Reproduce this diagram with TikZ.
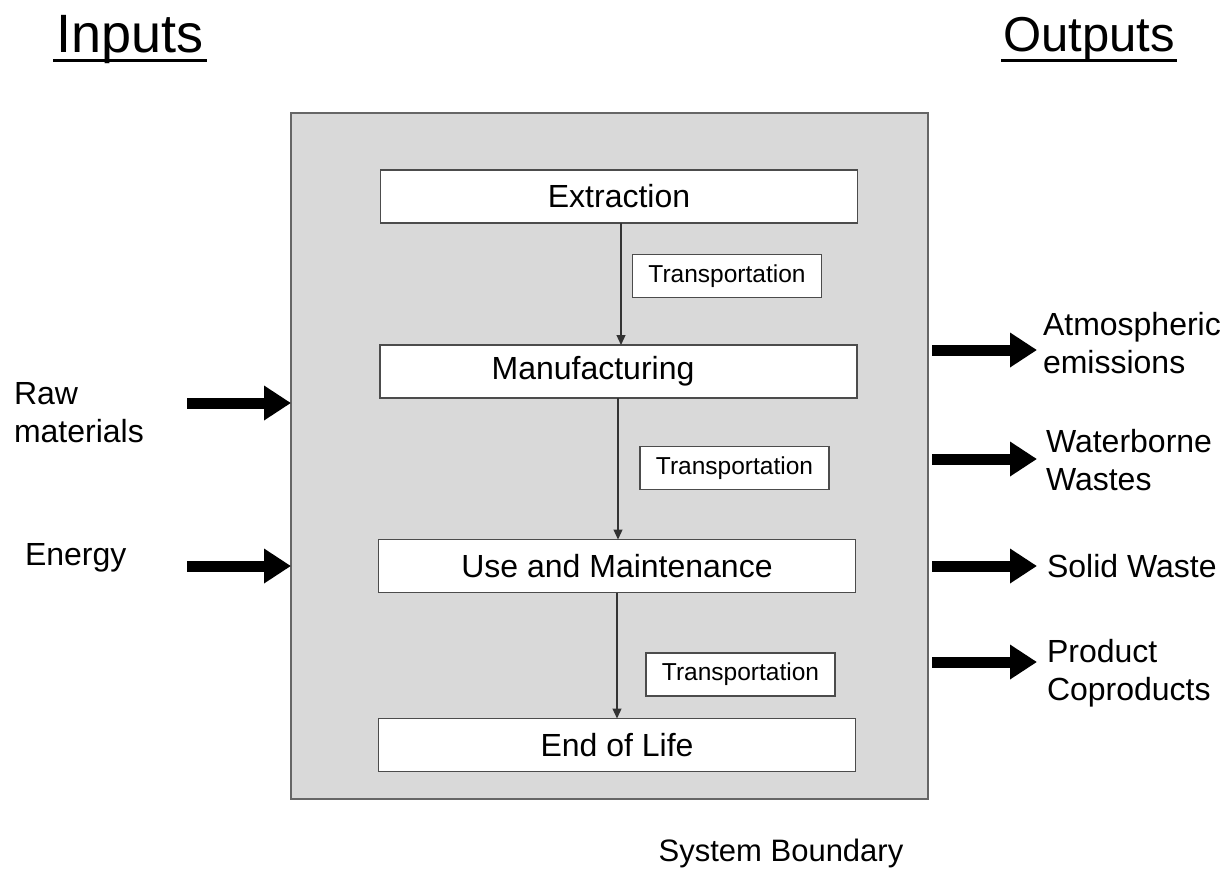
\documentclass[tikz,border=0pt]{standalone}
\usepackage{fontspec}
\setmainfont{Liberation Sans}
\usetikzlibrary{arrows.meta}
\begin{document}
\begin{tikzpicture}[x=1pt,y=-1pt,
  every node/.style={inner sep=0pt,outer sep=0pt},
  stagebox/.style={draw=black!70,line width=1.4pt,fill=white,minimum width=477pt,minimum height=53pt},
  transbox/.style={draw=black!70,line width=1.2pt,fill=white,minimum width=189pt,minimum height=43pt,font=\fontsize{24.5}{28}\selectfont},
  stagetext/.style={font=\fontsize{32}{36}\selectfont},
  lbl/.style={font=\fontsize{32}{37.5}\selectfont,align=left},
  uline/.style={line width=3pt},
  flow/.style={draw=black!80,line width=1.2pt,-{Triangle[length=10pt,width=9pt]}},
  bigarrow/.style={line width=11pt,-{Triangle[length=27pt,width=33pt]}}
]
\useasboundingbox (0,0) rectangle (1226,871);
% headings
\node[font=\fontsize{54}{60}\selectfont,anchor=base] (inputs) at (130,52) {Inputs};
\node[font=\fontsize{49}{56}\selectfont,anchor=base] (outputs) at (1089,51) {Outputs};
\draw[uline] ([xshift=-3pt,yshift=-8pt]inputs.base west) -- ([xshift=3pt,yshift=-8pt]inputs.base east);
\draw[uline] ([xshift=-2pt,yshift=-9pt]outputs.base west) -- ([xshift=2pt,yshift=-9pt]outputs.base east);
% system boundary
\node[draw=black!60,line width=1.6pt,fill=black!15,minimum width=637pt,minimum height=686pt] (sys) at (609.5,456) {};
% stages
\node[stagebox] (ext) at (619,196.5) {};
\node[stagetext] at (619,196.5) {Extraction};
\node[stagebox] (man) at (618.5,371.5) {};
\node[stagetext] at (593,371.5) {Manufacturing};
\node[stagebox] (use) at (617,566) {};
\node[stagetext] at (617,566) {Use and Maintenance};
\node[stagebox] (eol) at (617,745) {};
\node[stagetext] at (617,745) {End of Life};
% transport boxes
\node[transbox] (t1) at (727,276) {Transportation};
\node[transbox] (t2) at (734.5,468) {Transportation};
\node[transbox] (t3) at (740.5,674.5) {Transportation};
% flow arrows
\draw[flow] (ext.south -| 621,0) -- (man.north -| 621,0);
\draw[flow] (man.south -| 618,0) -- (use.north -| 618,0);
\draw[flow] (use.south -| 617,0) -- (eol.north -| 617,0);
% inputs
\coordinate (rawstart) at (187,403);
\coordinate (enstart) at (187,566);
\draw[bigarrow] (rawstart) -- (rawstart -| sys.west);
\draw[bigarrow] (enstart) -- (enstart -| sys.west);
\node[lbl,anchor=base west] (raw) at (14,442) {Raw\\materials};
\node[lbl,anchor=base west] (energy) at (25,565) {Energy};
% outputs
\coordinate (o1) at (1037,350);
\coordinate (o2) at (1037,459);
\coordinate (o3) at (1037,566);
\coordinate (o4) at (1037,662);
\draw[bigarrow] (o1 -| 932,0) -- (o1);
\draw[bigarrow] (o2 -| 932,0) -- (o2);
\draw[bigarrow] (o3 -| 932,0) -- (o3);
\draw[bigarrow] (o4 -| 932,0) -- (o4);
\node[lbl,anchor=base west] (atm) at (1043,373) {Atmospheric\\emissions};
\node[lbl,anchor=base west] (wat) at (1046,490) {Waterborne\\Wastes};
\node[lbl,anchor=base west] (sol) at (1047,577) {Solid Waste};
\node[lbl,anchor=base west] (prod) at (1047,700) {Product\\Coproducts};
% system boundary label
\node[font=\fontsize{31}{36}\selectfont] (sb) at (781,853) {System Boundary};
\end{tikzpicture}
\end{document}
